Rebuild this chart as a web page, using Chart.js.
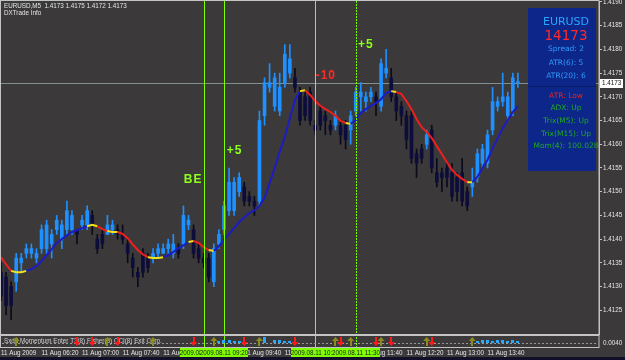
<!DOCTYPE html>
<html>
<head>
<meta charset="utf-8">
<script src="https://cdn.jsdelivr.net/npm/chart.js@4.4.1/dist/chart.umd.min.js"></script>
<style>
  html, body { margin: 0; padding: 0; background: #3b3939; overflow: hidden; }
  #wrap { width: 625px; height: 360px; }
</style>
</head>
<body>
<div id="wrap"><canvas id="chart" width="625" height="360"></canvas></div>
<script>
// EURUSD M5, 11 Aug 2009 05:40 .. 14:10, one entry per bar
const opens = [
  1.4133, 1.4132, 1.4130, 1.4131, 1.4135, 1.4137, 1.4137, 1.4136, 1.4138, 1.4138,
  1.4139, 1.4142, 1.4140, 1.4142, 1.4142, 1.4142, 1.4143, 1.4143, 1.4145, 1.4140,
  1.4141, 1.4141, 1.4142, 1.4142, 1.4141, 1.4139, 1.4136, 1.4133, 1.4137, 1.4136,
  1.4136, 1.4137, 1.4137, 1.4138, 1.4137, 1.4138, 1.4139, 1.4143, 1.4142, 1.4138,
  1.4136, 1.4136, 1.4131, 1.4139, 1.4142, 1.4146, 1.4146, 1.4150, 1.4151, 1.4149,
  1.4148, 1.4148, 1.4166, 1.4172, 1.4168, 1.4167, 1.4173, 1.4175, 1.4174, 1.4171,
  1.4170, 1.4171, 1.4164, 1.4167, 1.4166, 1.4164, 1.4164, 1.4164, 1.4164, 1.4163,
  1.4167, 1.4170, 1.4169, 1.4170, 1.4170, 1.4168, 1.4175, 1.4174, 1.4170, 1.4168,
  1.4166, 1.4166, 1.4158, 1.4159, 1.4160, 1.4163, 1.4154, 1.4154, 1.4155, 1.4154,
  1.4153, 1.4154, 1.4150, 1.4151, 1.4153, 1.4156, 1.4156, 1.4163, 1.4168, 1.4169,
  1.4166, 1.4167, 1.4173
];
const highs = [
  1.4135, 1.4133, 1.4131, 1.4137, 1.4137, 1.4139, 1.4139, 1.4138, 1.4143, 1.4144,
  1.4142, 1.4145, 1.4144, 1.4148, 1.4146, 1.4142, 1.4145, 1.4147, 1.4146, 1.4141,
  1.4142, 1.4145, 1.4144, 1.4143, 1.4143, 1.4140, 1.4137, 1.4134, 1.4138, 1.4137,
  1.4138, 1.4139, 1.4139, 1.4140, 1.4141, 1.4139, 1.4147, 1.4145, 1.4143, 1.4139,
  1.4137, 1.4137, 1.4139, 1.4142, 1.4148, 1.4155, 1.4153, 1.4154, 1.4152, 1.4150,
  1.4149, 1.4167, 1.4174, 1.4177, 1.4175, 1.4175, 1.4181, 1.4181, 1.4176, 1.4172,
  1.4171, 1.4172, 1.4165, 1.4168, 1.4167, 1.4165, 1.4167, 1.4165, 1.4165, 1.4167,
  1.4172, 1.4173, 1.4171, 1.4172, 1.4171, 1.4178, 1.4180, 1.4176, 1.4171, 1.4169,
  1.4167, 1.4167, 1.4159, 1.4160, 1.4163, 1.4164, 1.4157, 1.4155, 1.4156, 1.4156,
  1.4154, 1.4157, 1.4151, 1.4155, 1.4159, 1.4160, 1.4163, 1.4172, 1.4170, 1.4175,
  1.4171, 1.4175, 1.4175
];
const lows = [
  1.4127, 1.4124, 1.4123, 1.4129, 1.4133, 1.4136, 1.4136, 1.4135, 1.4137, 1.4137,
  1.4136, 1.4141, 1.4138, 1.4141, 1.4141, 1.4139, 1.4142, 1.4142, 1.4141, 1.4137,
  1.4138, 1.4141, 1.4141, 1.4140, 1.4139, 1.4135, 1.4132, 1.4130, 1.4132, 1.4133,
  1.4135, 1.4136, 1.4137, 1.4137, 1.4136, 1.4136, 1.4138, 1.4142, 1.4136, 1.4135,
  1.4134, 1.4131, 1.4130, 1.4138, 1.4141, 1.4145, 1.4145, 1.4149, 1.4147, 1.4147,
  1.4145, 1.4147, 1.4164, 1.4171, 1.4167, 1.4166, 1.4172, 1.4174, 1.4171, 1.4164,
  1.4165, 1.4164, 1.4162, 1.4163, 1.4162, 1.4162, 1.4163, 1.4160, 1.4159, 1.4160,
  1.4166, 1.4167, 1.4167, 1.4169, 1.4166, 1.4167, 1.4174, 1.4169, 1.4165, 1.4164,
  1.4159, 1.4156, 1.4153, 1.4156, 1.4159, 1.4154, 1.4151, 1.4150, 1.4151, 1.4148,
  1.4148, 1.4147, 1.4146, 1.4149, 1.4152, 1.4155, 1.4155, 1.4162, 1.4167, 1.4168,
  1.4165, 1.4166, 1.4172
];
const closes = [
  1.4128, 1.4126, 1.4126, 1.4136, 1.4136, 1.4138, 1.4138, 1.4137, 1.4142, 1.4143,
  1.4141, 1.4144, 1.4143, 1.4146, 1.4145, 1.4141, 1.4144, 1.4146, 1.4143, 1.4138,
  1.4139, 1.4143, 1.4143, 1.4141, 1.4140, 1.4137, 1.4134, 1.4132, 1.4133, 1.4134,
  1.4137, 1.4138, 1.4138, 1.4139, 1.4139, 1.4137, 1.4145, 1.4144, 1.4137, 1.4136,
  1.4135, 1.4132, 1.4138, 1.4141, 1.4147, 1.4152, 1.4152, 1.4153, 1.4148, 1.4148,
  1.4147, 1.4165, 1.4173, 1.4173, 1.4174, 1.4172, 1.4179, 1.4178, 1.4172, 1.4165,
  1.4166, 1.4165, 1.4163, 1.4164, 1.4165, 1.4163, 1.4166, 1.4162, 1.4161, 1.4166,
  1.4171, 1.4171, 1.4170, 1.4171, 1.4169, 1.4177, 1.4176, 1.4170, 1.4167, 1.4166,
  1.4161, 1.4157, 1.4156, 1.4157, 1.4162, 1.4155, 1.4152, 1.4153, 1.4153, 1.4149,
  1.4150, 1.4148, 1.4147, 1.4152, 1.4158, 1.4159, 1.4162, 1.4169, 1.4169, 1.4170,
  1.4170, 1.4174, 1.4173
];
// moving average
const maValues = [
  1.41362, 1.41347, 1.41333, 1.41330, 1.41330, 1.41333, 1.41337, 1.41343, 1.41354, 1.41366,
  1.41379, 1.41392, 1.41400, 1.41408, 1.41415, 1.41419, 1.41423, 1.41427, 1.41430, 1.41427,
  1.41421, 1.41417, 1.41415, 1.41415, 1.41411, 1.41402, 1.41389, 1.41377, 1.41368, 1.41362,
  1.41360, 1.41360, 1.41362, 1.41366, 1.41373, 1.41381, 1.41387, 1.41394, 1.41396, 1.41392,
  1.41383, 1.41377, 1.41375, 1.41385, 1.41398, 1.41411, 1.41423, 1.41436, 1.41446, 1.41455,
  1.41461, 1.41470, 1.41487, 1.41518, 1.41550, 1.41584, 1.41615, 1.41655, 1.41693, 1.41712,
  1.41714, 1.41704, 1.41691, 1.41681, 1.41674, 1.41668, 1.41660, 1.41649, 1.41645, 1.41643,
  1.41651, 1.41666, 1.41674, 1.41681, 1.41687, 1.41695, 1.41708, 1.41712, 1.41710, 1.41706,
  1.41691, 1.41674, 1.41653, 1.41636, 1.41626, 1.41613, 1.41596, 1.41579, 1.41562, 1.41546,
  1.41535, 1.41527, 1.41520, 1.41520, 1.41531, 1.41550, 1.41567, 1.41592, 1.41613, 1.41634,
  1.41651, 1.41668, 1.41681
];

const slotCount = 119;          // bars + empty chart shift on the right
const tickStep = 8;
const tickLabels = ['11 Aug 2009', '11 Aug 06:20', '11 Aug 07:00', '11 Aug 07:40', '11 Aug 08:20',
  '11 Aug 09:00', '11 Aug 09:40', '11 Aug 10:20', '11 Aug 11:00', '11 Aug 11:40',
  '11 Aug 12:20', '11 Aug 13:00', '11 Aug 13:40'];
const priceTicks = [1.4125, 1.4130, 1.4135, 1.4140, 1.4145, 1.4150, 1.4155, 1.4160, 1.4165,
  1.4170, 1.4175, 1.4180, 1.4185, 1.4190];
const bidPrice = 1.4173;

// vertical lines and their time boxes
const vLineBars = [40, 44, 62, 70];
const vLineTimes = ['2009.08.11 09:00', '2009.08.11 09:20', '2009.08.11 10:50', '2009.08.11 11:30'];

// trade notes
const noteTexts = ['BE', '+5', '-10', '+5'];
const noteBars = [37.9, 46.1, 64.1, 72.0];
const notePrices = [1.41526, 1.41586, 1.41744, 1.41809];
const noteColors = ['#8cff1a', '#8cff1a', '#ff2a2a', '#8cff1a'];

// lower indicator window
const upArrowBars = [3, 21, 30, 42, 51, 66, 69, 75, 84, 93];
const downArrowBars = [15, 18, 23, 38, 48, 58, 67, 74, 77, 85];
const histBars = [43, 44, 45, 46, 47, 52, 54, 55, 56, 57, 94, 95, 96, 97, 98, 99, 100, 101, 102];
const histVals = [2, 3, 3, 2, 2, 6, 3, 3, 2, 2, 2, 3, 3, 2, 3, 3, 2, 3, 2];

// DXTrade Info panel
const infoLines = [
  { text: 'EURUSD', y: 22, size: 11, color: '#2aa6ff' },
  { text: '14173', y: 36, size: 13.5, color: '#ff2b2b' },
  { text: 'Spread: 2', y: 49, size: 7.5, color: '#2f9cff' },
  { text: 'ATR(6): 5', y: 63, size: 7.5, color: '#2f9cff' },
  { text: 'ATR(20): 6', y: 76, size: 7.5, color: '#2f9cff' },
  { text: 'ATR: Low', y: 96, size: 7.5, color: '#e02626' },
  { text: 'ADX: Up', y: 108, size: 7.5, color: '#1fa81f' },
  { text: 'Trix(M5): Up', y: 121, size: 7.5, color: '#1fa81f' },
  { text: 'Trix(M15): Up', y: 134, size: 7.5, color: '#1fa81f' },
  { text: 'Mom(4): 100.028', y: 146, size: 7.5, color: '#1fa81f' }
];

const bgColor = '#3b3939';
const frameColor = '#c4c4c4';
const textColor = '#e6e6e6';
const bullColor = '#1e90ff';
const bearColor = '#0d0d3c';
const smallFont = '6.3px "Liberation Sans", Arial, sans-serif';

const slots = Array.from({ length: slotCount }, (_, i) => i);
const isBull = closes.map((c, i) => c >= opens[i]);

const mtPlugin = {
  id: 'mtDecor',
  beforeDraw(chart) {
    const ctx = chart.ctx;
    ctx.save();
    ctx.fillStyle = bgColor;
    ctx.fillRect(0, 0, chart.width, chart.height);
    ctx.fillStyle = '#10102a';
    ctx.fillRect(0, 357, chart.width, 3);
    ctx.restore();
  },
  beforeDatasetsDraw(chart) {
    const { ctx, chartArea: a, scales: { y } } = chart;
    const py = Math.round(y.getPixelForValue(bidPrice)) + 0.5;
    ctx.save();
    ctx.strokeStyle = '#7e9090';
    ctx.lineWidth = 1;
    ctx.beginPath();
    ctx.moveTo(a.left, py);
    ctx.lineTo(a.right, py);
    ctx.stroke();
    ctx.restore();
  },
  afterDatasetsDraw(chart) {
    const { ctx, chartArea: a, scales: { x, y } } = chart;
    ctx.save();
    // vertical lines
    ctx.strokeStyle = '#7fff00';
    ctx.lineWidth = 1;
    vLineBars.forEach((b, k) => {
      const px = Math.round(x.getPixelForValue(b)) + 0.5;
      ctx.setLineDash(k === 3 ? [2, 1] : []);
      ctx.beginPath();
      ctx.moveTo(px, a.top);
      ctx.lineTo(px, 348);
      ctx.stroke();
    });
    ctx.setLineDash([]);
    // notes
    ctx.font = 'bold 12px "Liberation Sans", Arial, sans-serif';
    ctx.textAlign = 'center';
    ctx.textBaseline = 'middle';
    if ('letterSpacing' in ctx) ctx.letterSpacing = '1px';
    noteTexts.forEach((t, k) => {
      ctx.fillStyle = noteColors[k];
      ctx.fillText(t, x.getPixelForValue(noteBars[k]), y.getPixelForValue(notePrices[k]));
    });
    if ('letterSpacing' in ctx) ctx.letterSpacing = '0px';
    // frame of the main window
    ctx.strokeStyle = frameColor;
    ctx.strokeRect(a.left - 0.5, a.top - 0.5, a.right - a.left + 0.5, a.bottom - a.top + 1);
    ctx.restore();
  },
  afterDraw(chart) {
    const { ctx, chartArea: a, scales: { x, y } } = chart;
    ctx.save();
    // lower window
    const top = 335.5, bottom = 347.5, base = 343.5;
    ctx.strokeStyle = frameColor;
    ctx.lineWidth = 1;
    ctx.strokeRect(a.left - 0.5, top, a.right - a.left + 0.5, bottom - top);
    ctx.setLineDash([2, 2]);
    ctx.strokeStyle = '#9a9a9a';
    ctx.beginPath();
    ctx.moveTo(a.left + 1, base);
    ctx.lineTo(a.right - 1, base);
    ctx.stroke();
    ctx.setLineDash([]);
    ctx.fillStyle = '#27a9ff';
    histBars.forEach((b, k) => {
      const px = x.getPixelForValue(b);
      ctx.fillRect(Math.round(px - 1.5), base - 0.5 - histVals[k], 3, histVals[k]);
    });
    ctx.font = smallFont;
    ctx.textAlign = 'left';
    ctx.textBaseline = 'middle';
    ctx.fillStyle = '#cfcfcf';
    ctx.fillText('Sxdd Momentum Enter T3(8) Fisher(8) CCI(8) Exit Corp.', 4, 341);
    const arrow = (px, up, color) => {
      ctx.fillStyle = color;
      ctx.beginPath();
      if (up) {
        ctx.moveTo(px, 337); ctx.lineTo(px + 3.5, 341); ctx.lineTo(px - 3.5, 341);
      } else {
        ctx.moveTo(px, 346); ctx.lineTo(px + 3.5, 342); ctx.lineTo(px - 3.5, 342);
      }
      ctx.closePath();
      ctx.fill();
      ctx.fillRect(Math.round(px) - 1, up ? 341 : 337, 2, 5);
    };
    upArrowBars.forEach(b => arrow(x.getPixelForValue(b), true, '#8c8c1e'));
    downArrowBars.forEach(b => arrow(x.getPixelForValue(b), false, '#ff1a1a'));
    ctx.fillStyle = textColor;
    ctx.fillText('0.0040', 603, 343);

    // time boxes of the vertical lines
    ctx.textAlign = 'center';
    vLineBars.forEach((b, k) => {
      const px = Math.round(x.getPixelForValue(b));
      ctx.fillStyle = '#7fff00';
      ctx.fillRect(px - 24, 348, 48, 9);
      ctx.fillStyle = '#1a1a1a';
      ctx.fillText(vLineTimes[k], px, 352.8);
    });

    // bid label on the price axis
    const py = Math.round(y.getPixelForValue(bidPrice));
    ctx.fillStyle = '#ffffff';
    ctx.fillRect(600, py - 4, 23, 9);
    ctx.fillStyle = '#111111';
    ctx.textAlign = 'left';
    ctx.fillText(bidPrice.toFixed(4), 602, py + 0.5);

    // title
    ctx.fillStyle = textColor;
    ctx.fillText('EURUSD,M5  1.4173 1.4175 1.4172 1.4173', 4, 6);
    ctx.fillText('DXTrade Info', 4, 13);

    // info panel
    ctx.fillStyle = '#0d268a';
    ctx.fillRect(528, 8, 68, 163);
    ctx.strokeStyle = '#0a1c66';
    ctx.beginPath();
    ctx.moveTo(528, 86.5);
    ctx.lineTo(596, 86.5);
    ctx.stroke();
    ctx.textAlign = 'center';
    infoLines.forEach(l => {
      ctx.font = l.size + 'px "DejaVu Sans", Verdana, sans-serif';
      ctx.fillStyle = l.color;
      ctx.fillText(l.text, 566, l.y);
    });
    ctx.restore();
  }
};

new Chart(document.getElementById('chart'), {
  data: {
    labels: slots,
    datasets: [
      {
        type: 'line',
        label: 'MA',
        data: maValues,
        borderWidth: 2,
        pointRadius: 0,
        tension: 0,
        order: 0,
        segment: {
          borderColor: c => {
            const d = c.p1.parsed.y - c.p0.parsed.y;
            if (Math.abs(d) < 0.000035) return '#f2e21a';
            return d > 0 ? '#1c1cc4' : '#f01e1e';
          }
        }
      },
      {
        type: 'bar',
        label: 'Body',
        data: opens.map((o, i) => [o, closes[i]]),
        backgroundColor: isBull.map(b => b ? bullColor : bearColor),
        barThickness: 3,
        minBarLength: 1,
        grouped: false,
        order: 2
      },
      {
        type: 'bar',
        label: 'Wick',
        data: lows.map((l, i) => [l, highs[i]]),
        backgroundColor: isBull.map(b => b ? bullColor : '#0a0a1c'),
        barThickness: 1,
        grouped: false,
        order: 3
      }
    ]
  },
  options: {
    responsive: false,
    animation: false,
    devicePixelRatio: 1,
    layout: { padding: { left: 1, top: 1, right: 0, bottom: 0 } },
    plugins: { legend: { display: false }, tooltip: { enabled: false } },
    scales: {
      x: {
        type: 'category',
        offset: false,
        grid: { display: false, drawTicks: false },
        border: { display: false },
        afterFit: s => { s.height = 26; s.paddingLeft = 0; s.paddingRight = 0; },
        ticks: {
          autoSkip: false,
          maxRotation: 0,
          minRotation: 0,
          align: 'start',
          padding: 15,
          color: textColor,
          font: { family: '"Liberation Sans", Arial, sans-serif', size: 6.3 },
          callback: (v, i) => (i % tickStep === 0 && i / tickStep < tickLabels.length) ? tickLabels[i / tickStep] : null
        }
      },
      y: {
        position: 'right',
        min: 1.4120,
        max: 1.41902,
        afterFit: s => { s.width = 26; s.paddingTop = 0; s.paddingBottom = 0; },
        afterBuildTicks: s => { s.ticks = priceTicks.map(v => ({ value: v })); },
        grid: { display: true, drawOnChartArea: false, drawTicks: true, tickLength: 3, color: frameColor },
        border: { display: true, color: frameColor },
        ticks: {
          padding: 1,
          color: textColor,
          font: { family: '"Liberation Sans", Arial, sans-serif', size: 6.3 },
          callback: v => v.toFixed(4)
        }
      }
    }
  },
  plugins: [mtPlugin]
});
</script>
</body>
</html>
